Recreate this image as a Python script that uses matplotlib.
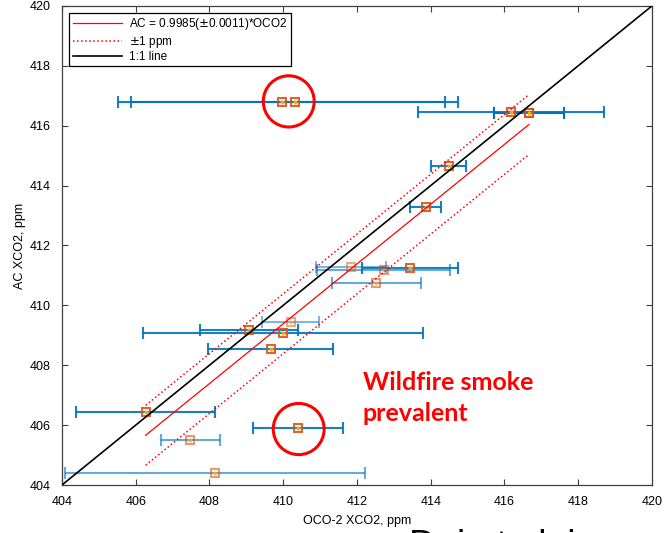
import numpy as np
import matplotlib.pyplot as plt
from matplotlib.patches import Ellipse

plt.rcParams['font.family'] = ['Liberation Sans', 'DejaVu Sans']

# values
oco2 = [409.96, 410.31, 416.18, 416.66, 414.49, 413.86, 411.84, 412.72, 413.44,
        412.52, 410.20, 409.08, 410.00, 409.66, 406.27, 407.48, 410.41, 408.16]
ac = [416.80, 416.80, 416.47, 416.42, 414.66, 413.27, 411.27, 411.19, 411.26,
      410.76, 409.46, 409.16, 409.08, 408.53, 406.43, 405.50, 405.90, 404.39]
oco2_err = [4.44, 4.44, 2.52, 0.95, 0.47, 0.43, 0.96, 1.81, 1.31,
            1.21, 0.77, 1.33, 3.80, 1.70, 1.88, 0.80, 1.22, 4.07]
alphas = [0.9, 0.9, 0.9, 1.0, 0.9, 0.9, 0.5, 0.6, 0.9,
          0.6, 0.5, 0.9, 0.9, 0.9, 0.9, 0.6, 0.9, 0.6]
slope = 0.9985
ticks = np.arange(404, 421, 2)
circles = [(410.15, 416.81), (410.42, 405.87)]

blue = '#0072BD'
orange = '#D95319'
yellow = '#EDB120'

fig = plt.figure(figsize=(6.66, 5.33), dpi=100)
ax = fig.add_axes([0.093, 0.090, 0.886, 0.899])

for x, y, e, a in zip(oco2, ac, oco2_err, alphas):
    ax.errorbar(x, y, xerr=e, fmt='none', ecolor=blue, elinewidth=1.5,
                capsize=4, capthick=1.5, alpha=a, zorder=2)
    ax.plot(x, y, 's', ms=6, mfc='none', mec=orange, mew=1.5, alpha=a, zorder=3)
    ax.plot(x, y, '.', ms=4, color=yellow, alpha=a, zorder=3)

xr = np.array([min(oco2), max(oco2)])
ax.plot(xr, slope * xr, '-', color='red', lw=0.9, zorder=4,
        label='AC = 0.9985($\\pm$0.0011)*OCO2')
ax.plot(xr, slope * xr + 1, ':', color='red', lw=1.1, zorder=4, label='$\\pm$1 ppm')
ax.plot(xr, slope * xr - 1, ':', color='red', lw=1.1, zorder=4)
ax.plot([404, 420], [404, 420], '-', color='black', lw=1.2, zorder=4, label='1:1 line')

for cx, cy in circles:
    ax.add_patch(Ellipse((cx, cy), 1.38, 1.71, fill=False, ec='red', lw=2.2, zorder=5))

ax.text(412.15, 407.18, 'Wildfire smoke', color='red', fontsize=18,
        fontweight='bold', family=['Lato', 'DejaVu Sans'], va='baseline', ha='left')
ax.text(412.15, 406.14, 'prevalent', color='red', fontsize=18,
        fontweight='bold', family=['Lato', 'DejaVu Sans'], va='baseline', ha='left')

ax.set_xlim(404, 420)
ax.set_ylim(404, 420)
ax.set_xticks(ticks)
ax.set_yticks(ticks)
ax.tick_params(direction='in', top=True, right=True, length=4, labelsize=9,
               color='#404040', width=0.8, pad=8)
for s in ax.spines.values():
    s.set_color('#404040')
    s.set_linewidth(0.9)
ax.set_xlabel('OCO-2 XCO2, ppm', fontsize=9, labelpad=5)
ax.set_ylabel('AC XCO2, ppm', fontsize=9, labelpad=3)

leg = ax.legend(loc='upper left', fontsize=8.5, fancybox=False, framealpha=1,
                edgecolor='black', handlelength=4.2, borderpad=0.3,
                labelspacing=0.1, handletextpad=0.6, borderaxespad=0.6)
leg.get_frame().set_linewidth(0.9)

fig.text(0.614, 0.008, 'Dai et al. in prep', fontsize=27, va='top', ha='left')

fig.savefig('out.png', dpi=100)
